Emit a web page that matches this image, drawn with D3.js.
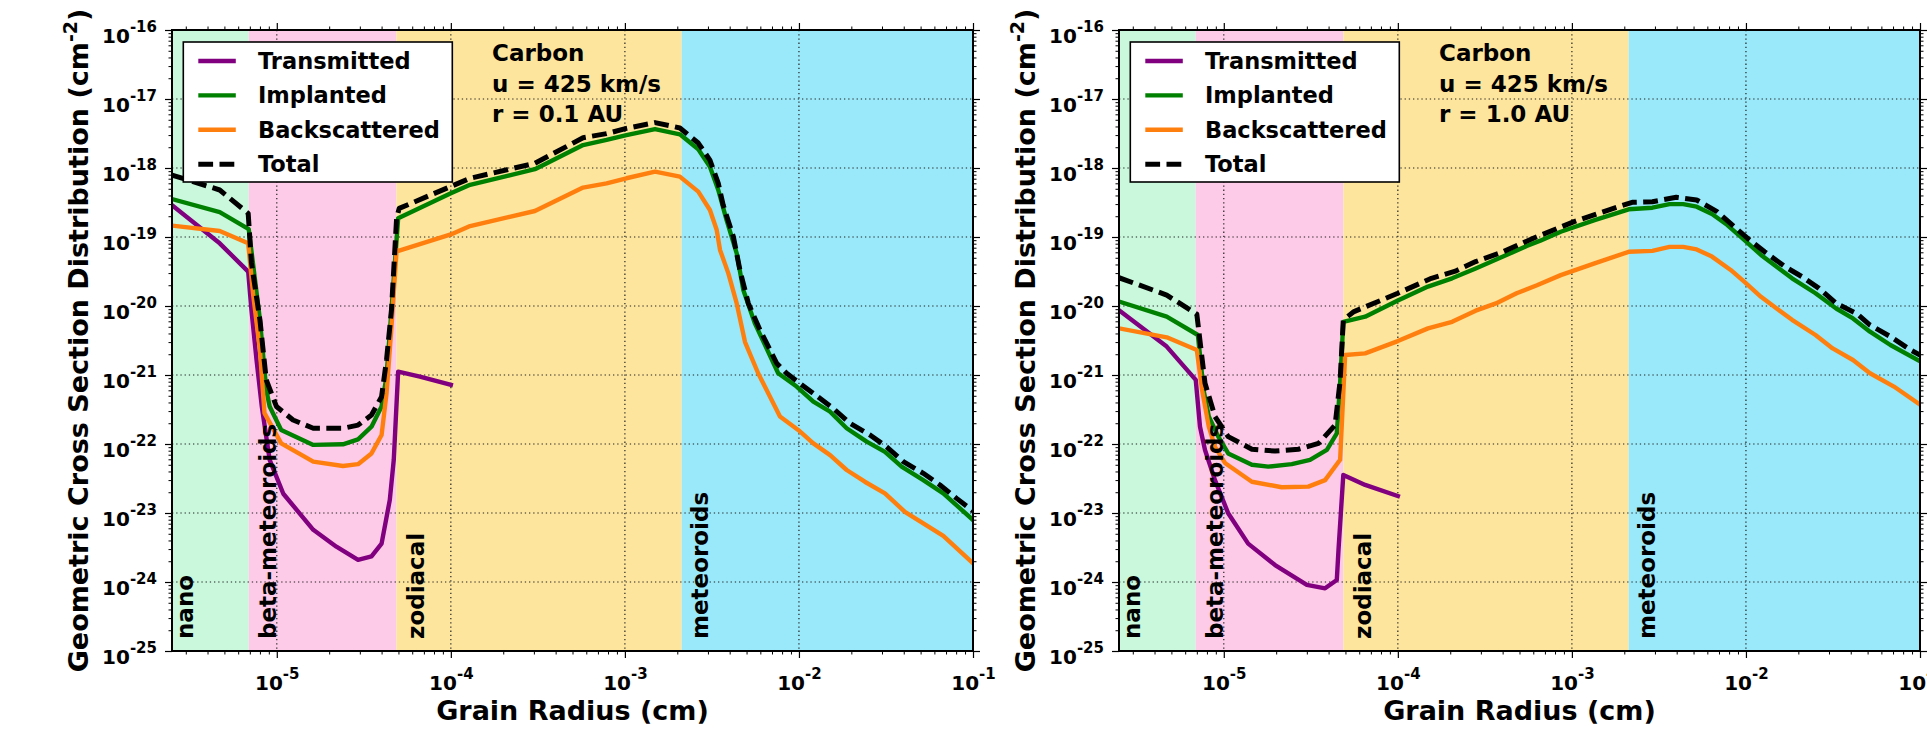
<!DOCTYPE html>
<html>
<head>
<meta charset="utf-8">
<title>Geometric cross section distribution — Carbon</title>
<script src="https://cdn.jsdelivr.net/npm/d3@7/dist/d3.min.js"></script>
<style>
  html, body { margin: 0; padding: 0; background: #fff; }
  svg text { font-family: "DejaVu Sans", sans-serif; font-weight: bold; fill: #000; }
</style>
</head>
<body>
<svg id="chart" width="1927" height="732"></svg>
<script>
// ---------------- data ----------------
// grain radius (cm) and geometric cross-section distribution (cm^-2) pairs

// r = 0.1 AU
const transmitted01 = [
  [2.5e-6, 2.9e-19], [4.7e-6, 8.1e-20], [6.85e-6, 3.15e-20], [7.15e-6, 8.8e-21], [7.65e-6, 1.65e-21],
  [8.2e-6, 3.5e-22], [9.1e-6, 5.9e-23], [1.09e-5, 1.9e-23], [1.62e-5, 5.7e-24], [2.2e-5, 3.25e-24],
  [2.93e-5, 2.1e-24], [3.5e-5, 2.35e-24], [4.0e-5, 3.6e-24], [4.46e-5, 1.55e-23], [4.7e-5, 5.9e-23],
  [4.98e-5, 1.12e-21], [6.64e-5, 9.5e-22], [1.0e-4, 7.2e-22]
];
const implanted01 = [
  [2.5e-6, 3.55e-19], [4.7e-6, 2.3e-19], [6.9e-6, 1.3e-19], [8.0e-6, 6.3e-21], [8.7e-6, 6.1e-22],
  [9.1e-6, 3.5e-22], [1.06e-5, 1.6e-22], [1.62e-5, 9.7e-23], [2.4e-5, 9.9e-23], [2.93e-5, 1.17e-22],
  [3.5e-5, 1.78e-22], [4.0e-5, 3.5e-22], [4.27e-5, 9.5e-22], [4.56e-5, 8.8e-21], [4.98e-5, 1.87e-19],
  [1.0e-4, 4.3e-19], [1.29e-4, 5.7e-19], [3.04e-4, 9.6e-19], [5.75e-4, 2.15e-18], [7.85e-4, 2.55e-18],
  [1.02e-3, 3.0e-18], [1.49e-3, 3.67e-18], [2.07e-3, 3.08e-18], [2.64e-3, 1.87e-18], [3.08e-3, 1.04e-18],
  [3.44e-3, 4.8e-19], [3.84e-3, 1.76e-19], [4.39e-3, 5.8e-20], [4.79e-3, 1.71e-20], [5.58e-3, 5.6e-21],
  [7.6e-3, 1.06e-21], [9.7e-3, 6.8e-22], [1.21e-2, 4.1e-22], [1.51e-2, 2.94e-22], [1.88e-2, 1.69e-22],
  [2.45e-2, 1.08e-22], [3.12e-2, 7.7e-23], [3.89e-2, 4.7e-23], [5.18e-2, 3.0e-23], [6.75e-2, 1.93e-23],
  [0.1, 7.9e-24]
];
const backscattered01 = [
  [2.5e-6, 1.46e-19], [4.7e-6, 1.22e-19], [6.85e-6, 8.1e-20], [7.3e-6, 1.53e-20], [8.0e-6, 2.3e-21],
  [8.5e-6, 2.8e-22], [1.06e-5, 1.02e-22], [1.62e-5, 5.55e-23], [2.4e-5, 4.8e-23], [2.93e-5, 5.1e-23],
  [3.5e-5, 7.3e-23], [4.0e-5, 1.35e-22], [4.27e-5, 5.4e-22], [4.56e-5, 5.0e-21], [4.88e-5, 6.5e-20],
  [5.0e-5, 6.3e-20], [1.0e-4, 1.09e-19], [1.29e-4, 1.44e-19], [3.04e-4, 2.38e-19], [5.75e-4, 5.2e-19],
  [7.85e-4, 6.0e-19], [1.02e-3, 7.1e-19], [1.49e-3, 8.85e-19], [2.07e-3, 7.5e-19], [2.64e-3, 4.55e-19],
  [3.08e-3, 2.46e-19], [3.37e-3, 1.26e-19], [3.52e-3, 6.5e-20], [3.93e-3, 2.97e-20], [4.39e-3, 1.09e-20],
  [4.9e-3, 3.0e-21], [5.83e-3, 1.06e-21], [7.78e-3, 2.5e-22], [9.9e-3, 1.6e-22], [1.21e-2, 1.02e-22],
  [1.51e-2, 6.9e-23], [1.88e-2, 4.2e-23], [2.39e-2, 2.84e-23], [3.12e-2, 1.93e-23], [4.06e-2, 1.04e-23],
  [6.75e-2, 4.65e-24], [0.1, 1.87e-24]
];
const total01 = [
  [2.5e-6, 7.9e-19], [4.7e-6, 4.8e-19], [6.85e-6, 2.2e-19], [7.15e-6, 4.2e-20], [8.0e-6, 6.3e-21],
  [8.7e-6, 8.5e-22], [9.95e-6, 3.5e-22], [1.24e-5, 2.23e-22], [1.62e-5, 1.69e-22], [2.4e-5, 1.69e-22],
  [2.93e-5, 1.88e-22], [3.5e-5, 2.63e-22], [4.0e-5, 4.85e-22], [4.27e-5, 1.65e-21], [4.56e-5, 8.8e-21],
  [4.88e-5, 1.87e-19], [5.05e-5, 2.6e-19], [1.0e-4, 5.4e-19], [1.29e-4, 7.1e-19], [3.04e-4, 1.17e-18],
  [5.75e-4, 2.75e-18], [7.85e-4, 3.15e-18], [1.02e-3, 3.75e-18], [1.49e-3, 4.55e-18], [2.07e-3, 3.8e-18],
  [2.64e-3, 2.3e-18], [3.08e-3, 1.3e-18], [3.44e-3, 6.0e-19], [3.67e-3, 2.9e-19], [4.2e-3, 1.01e-19],
  [4.58e-3, 3.3e-20], [5.12e-3, 1.09e-20], [5.97e-3, 4.5e-21], [7.45e-3, 1.48e-21], [8.49e-3, 1.06e-21],
  [1.01e-2, 7.6e-22], [1.26e-2, 5.0e-22], [1.57e-2, 3.3e-22], [1.96e-2, 2.0e-22], [2.56e-2, 1.35e-22],
  [3.19e-2, 9.1e-23], [3.98e-2, 5.55e-23], [5.18e-2, 3.76e-23], [6.46e-2, 2.55e-23], [8.05e-2, 1.63e-23],
  [0.1, 1.07e-23]
];

// r = 1.0 AU
const transmitted10 = [
  [2.5e-6, 8.7e-21], [4.7e-6, 2.58e-21], [6.9e-6, 8.5e-22], [7.3e-6, 1.78e-22], [7.8e-6, 8.2e-23],
  [8.9e-6, 3.0e-23], [1.06e-5, 9.9e-24], [1.38e-5, 3.6e-24], [1.97e-5, 1.76e-24], [3.0e-5, 9.1e-25],
  [3.82e-5, 8.1e-25], [4.46e-5, 1.07e-24], [4.56e-5, 2.9e-24], [4.86e-5, 3.56e-23], [6.49e-5, 2.55e-23],
  [1.0e-4, 1.76e-23]
];
const implanted10 = [
  [2.5e-6, 1.16e-20], [4.7e-6, 7.0e-21], [7.1e-6, 3.8e-21], [7.65e-6, 6.1e-22], [8.2e-6, 2.5e-22],
  [9.3e-6, 1.28e-22], [1.06e-5, 7.3e-23], [1.45e-5, 5.0e-23], [1.8e-5, 4.7e-23], [2.46e-5, 5.1e-23],
  [3.13e-5, 5.9e-23], [3.91e-5, 8.2e-23], [4.46e-5, 1.43e-22], [4.66e-5, 7.6e-22], [4.86e-5, 5.9e-21],
  [6.49e-5, 7.0e-21], [1.0e-4, 1.2e-20], [1.49e-4, 1.91e-20], [2.05e-4, 2.52e-20], [2.8e-4, 3.5e-20],
  [4.02e-4, 5.2e-20], [5.5e-4, 7.4e-20], [6.58e-4, 8.85e-20], [8.63e-4, 1.19e-19], [1.35e-3, 1.76e-19],
  [2.12e-3, 2.52e-19], [2.9e-3, 2.66e-19], [3.64e-3, 3.0e-19], [4.36e-3, 3.0e-19], [5.21e-3, 2.75e-19],
  [6.38e-3, 2.15e-19], [7.82e-3, 1.49e-19], [9.77e-3, 9.1e-20], [1.22e-2, 5.5e-20], [1.84e-2, 2.52e-20],
  [2.51e-2, 1.53e-20], [3.3e-2, 9.2e-21], [4.12e-2, 6.6e-21], [5.16e-2, 4.25e-21], [6.76e-2, 2.72e-21],
  [0.1, 1.58e-21]
];
const backscattered10 = [
  [2.5e-6, 4.74e-21], [4.7e-6, 3.52e-21], [7.0e-6, 2.3e-21], [7.5e-6, 6.1e-22], [8.2e-6, 1.78e-22],
  [8.9e-6, 9.1e-23], [1.02e-5, 5.25e-23], [1.45e-5, 2.84e-23], [2.15e-5, 2.36e-23], [3.06e-5, 2.41e-23],
  [3.82e-5, 3.0e-23], [4.66e-5, 5.9e-23], [4.98e-5, 1.95e-21], [6.49e-5, 2.06e-21], [1.0e-4, 3.1e-21],
  [1.49e-4, 4.74e-21], [2.05e-4, 5.9e-21], [2.8e-4, 8.55e-21], [3.66e-4, 1.09e-20], [4.81e-4, 1.53e-20],
  [6.3e-4, 2.0e-20], [8.63e-4, 2.8e-20], [1.35e-3, 4.15e-20], [2.12e-3, 6.1e-20], [2.9e-3, 6.3e-20],
  [3.64e-3, 7.2e-20], [4.36e-3, 7.2e-20], [5.21e-3, 6.6e-20], [6.38e-3, 5.2e-20], [8.17e-3, 3.33e-20],
  [9.77e-3, 2.25e-20], [1.22e-2, 1.36e-20], [1.84e-2, 6.3e-21], [2.51e-2, 3.8e-21], [3.15e-2, 2.43e-21],
  [4.12e-2, 1.65e-21], [5.16e-2, 1.06e-21], [7.08e-2, 6.8e-22], [0.1, 3.72e-22]
];
const total10 = [
  [2.5e-6, 2.57e-20], [4.7e-6, 1.44e-20], [7.0e-6, 7.6e-21], [7.8e-6, 7.6e-22], [8.9e-6, 2.5e-22],
  [1.06e-5, 1.28e-22], [1.45e-5, 8.4e-23], [1.97e-5, 7.9e-23], [2.68e-5, 8.4e-23], [3.5e-5, 1.02e-22],
  [4.36e-5, 1.88e-22], [4.66e-5, 8.2e-22], [4.86e-5, 6.3e-21], [5.6e-5, 8.3e-21], [1.0e-4, 1.53e-20],
  [1.56e-4, 2.52e-20], [2.14e-4, 3.2e-20], [2.8e-4, 4.4e-20], [4.02e-4, 6.1e-20], [6.0e-4, 9.6e-20],
  [1.03e-3, 1.67e-19], [1.62e-3, 2.46e-19], [2.22e-3, 3.18e-19], [2.9e-3, 3.25e-19], [3.98e-3, 3.76e-19],
  [5.21e-3, 3.44e-19], [6.82e-3, 2.33e-19], [8.55e-3, 1.41e-19], [1.02e-2, 9.6e-20], [1.28e-2, 6.1e-20],
  [1.68e-2, 3.7e-20], [2.1e-2, 2.66e-20], [2.63e-2, 1.8e-20], [3.3e-2, 1.09e-20], [4.32e-2, 7.8e-21],
  [5.16e-2, 5.3e-21], [6.76e-2, 3.6e-21], [8.85e-2, 2.3e-21], [0.1, 1.95e-21]
];

// size classes and their radius limits (cm)
const regionNames = ["nano", "beta-meteoroids", "zodiacal", "meteoroids"];
const regionEdges = [2.5e-6, 6.9e-6, 4.87e-5, 2.12e-3, 0.1];

// axes
const radiusDomain = [2.5e-6, 0.1];
const sigmaDomain = [1e-25, 1e-16];
const radiusMajorTicks = [1e-5, 1e-4, 1e-3, 1e-2, 1e-1];
const sigmaMajorTicks = [1e-25, 1e-24, 1e-23, 1e-22, 1e-21, 1e-20, 1e-19, 1e-18, 1e-17, 1e-16];

const seriesNames = ["Transmitted", "Implanted", "Backscattered", "Total"];
const annotation01 = ["Carbon", "u = 425 km/s", "r = 0.1 AU"];
const annotation10 = ["Carbon", "u = 425 km/s", "r = 1.0 AU"];

// ---------------- styles & layout ----------------
const regionColors = ["#c9f8dc", "#fdcbe7", "#fde59e", "#9ae9fa"];
const regionLabelOffsets = [20.5, 27, 27.5, 26.5];
const seriesStyles = {
  Transmitted:   { color: "#800080", dash: null, width: 4.4 },
  Implanted:     { color: "#008000", dash: null, width: 4.4 },
  Backscattered: { color: "#ff7f0e", dash: null, width: 4.4 },
  Total:         { color: "#000000", dash: "14.8,6.4", width: 5 }
};
const layout = { lefts: [172, 1119], top: 30, width: 801, height: 621 };
const tickFont = 20, supFont = 15, axisLabelFont = 27, textFont = 23, legendFont = 22.5;

const panels = [
  { annotation: annotation01,
    series: { Transmitted: transmitted01, Implanted: implanted01, Backscattered: backscattered01, Total: total01 } },
  { annotation: annotation10,
    series: { Transmitted: transmitted10, Implanted: implanted10, Backscattered: backscattered10, Total: total10 } }
];

// ---------------- drawing ----------------
const fig = d3.select("#chart");
fig.append("rect").attr("width", 1927).attr("height", 732).attr("fill", "#fff");

function powerLabels(sel) {
  sel.each(function (d) {
    const t = d3.select(this).text(null);
    t.append("tspan").text("10");
    t.append("tspan").attr("dy", -11).attr("font-size", supFont)
      .text(String(Math.round(Math.log10(d))));
  });
}

panels.forEach((panel, i) => {
  const W = layout.width, H = layout.height;
  const g = fig.append("g").attr("transform", `translate(${layout.lefts[i]},${layout.top})`);
  const x = d3.scaleLog().domain(radiusDomain).range([0, W]);
  const y = d3.scaleLog().domain(sigmaDomain).range([H, 0]);

  const clipId = `plot-clip-${i}`;
  g.append("clipPath").attr("id", clipId)
    .append("rect").attr("width", W).attr("height", H);

  // size-class bands
  g.append("g").selectAll("rect").data(regionNames).join("rect")
    .attr("x", (d, k) => x(regionEdges[k]))
    .attr("y", 0)
    .attr("width", (d, k) => x(regionEdges[k + 1]) - x(regionEdges[k]))
    .attr("height", H)
    .attr("fill", (d, k) => regionColors[k]);

  // dotted grid at decades
  const grid = g.append("g").attr("stroke", "#222").attr("stroke-width", 1.2)
    .attr("stroke-dasharray", "1.3,2.9");
  grid.selectAll("line.gx").data(radiusMajorTicks.filter(v => v < radiusDomain[1])).join("line")
    .attr("class", "gx").attr("x1", d => x(d)).attr("x2", d => x(d)).attr("y1", 0).attr("y2", H);
  grid.selectAll("line.gy").data(sigmaMajorTicks.filter(v => v > sigmaDomain[0] && v < sigmaDomain[1])).join("line")
    .attr("class", "gy").attr("y1", d => y(d)).attr("y2", d => y(d)).attr("x1", 0).attr("x2", W);

  // curves
  const line = d3.line().x(d => x(d[0])).y(d => y(d[1]));
  const curves = g.append("g").attr("clip-path", `url(#${clipId})`);
  seriesNames.forEach(name => {
    const st = seriesStyles[name];
    curves.append("path").datum(panel.series[name])
      .attr("d", line)
      .attr("fill", "none")
      .attr("stroke", st.color)
      .attr("stroke-width", st.width)
      .attr("stroke-linejoin", "round")
      .attr("stroke-linecap", st.dash ? "butt" : "square")
      .attr("stroke-dasharray", st.dash);
  });

  // size-class labels
  g.append("g").selectAll("text").data(regionNames).join("text")
    .attr("transform", (d, k) => `translate(${x(regionEdges[k]) + regionLabelOffsets[k]},${H - 12}) rotate(-90)`)
    .attr("font-size", textFont)
    .attr("text-anchor", "start")
    .text(d => d);

  // frame
  g.append("rect").attr("width", W).attr("height", H)
    .attr("fill", "none").attr("stroke", "#000").attr("stroke-width", 2);

  // tick marks on all four sides (outward)
  const minorX = x.ticks().filter(v => Math.abs(Math.log10(v) - Math.round(Math.log10(v))) > 1e-6);
  const minorY = y.ticks().filter(v => Math.abs(Math.log10(v) - Math.round(Math.log10(v))) > 1e-6);
  const axes = [
    { make: d3.axisBottom, scale: x, minor: minorX, major: radiusMajorTicks, tr: `translate(0,${H})`, labels: true, kind: "bottom" },
    { make: d3.axisTop,    scale: x, minor: minorX, major: radiusMajorTicks, tr: `translate(0,0)`,    labels: false },
    { make: d3.axisLeft,   scale: y, minor: minorY, major: sigmaMajorTicks,  tr: `translate(0,0)`,    labels: true, kind: "left" },
    { make: d3.axisRight,  scale: y, minor: minorY, major: sigmaMajorTicks,  tr: `translate(${W},0)`, labels: false }
  ];
  axes.forEach(a => {
    const minorG = g.append("g").attr("transform", a.tr)
      .call(a.make(a.scale).tickValues(a.minor).tickSize(3.5).tickSizeOuter(0).tickFormat(() => ""));
    minorG.select(".domain").remove();
    minorG.selectAll(".tick text").remove();
    minorG.selectAll(".tick line").attr("stroke-width", 1);

    const majorG = g.append("g").attr("transform", a.tr)
      .call(a.make(a.scale).tickValues(a.major).tickSize(7).tickSizeOuter(0).tickFormat(() => ""));
    majorG.select(".domain").remove();
    majorG.attr("font-size", tickFont).attr("font-family", null);
    majorG.selectAll(".tick line").attr("stroke-width", 1.2);
    const texts = majorG.selectAll(".tick text");
    if (!a.labels) { texts.remove(); return; }
    if (a.kind === "bottom") {
      texts.attr("y", 39).attr("dy", null).attr("text-anchor", "middle");
    } else {
      texts.attr("x", -15).attr("y", 12.5).attr("dy", null).attr("text-anchor", "end");
    }
    texts.call(powerLabels);
  });

  // axis titles
  g.append("text")
    .attr("x", W / 2).attr("y", H + 69)
    .attr("text-anchor", "middle").attr("font-size", axisLabelFont)
    .text("Grain Radius (cm)");
  const yl = g.append("text")
    .attr("transform", `translate(-84,${H / 2}) rotate(-90)`)
    .attr("text-anchor", "middle").attr("font-size", axisLabelFont);
  yl.append("tspan").text("Geometric Cross Section Distribution (cm");
  yl.append("tspan").attr("dy", -11).attr("font-size", 19).text("-2");
  yl.append("tspan").attr("dy", 11).text(")");

  // run parameters
  g.append("g").selectAll("text").data(panel.annotation).join("text")
    .attr("x", 320).attr("y", (d, k) => 31 + k * 30.5)
    .attr("font-size", textFont)
    .text(d => d);

  // legend
  const lg = g.append("g").attr("transform", "translate(11.3,12)");
  lg.append("rect").attr("width", 269).attr("height", 140)
    .attr("fill", "#fff").attr("stroke", "#000").attr("stroke-width", 1.6);
  seriesNames.forEach((name, k) => {
    const cy = 19 + k * 34.4;
    const st = seriesStyles[name];
    lg.append("line")
      .attr("x1", 15).attr("x2", 52.5).attr("y1", cy).attr("y2", cy)
      .attr("stroke", st.color).attr("stroke-width", st.width)
      .attr("stroke-dasharray", st.dash);
    lg.append("text").attr("x", 74.7).attr("y", cy + 8)
      .attr("font-size", legendFont).text(name);
  });
});
</script>
</body>
</html>
